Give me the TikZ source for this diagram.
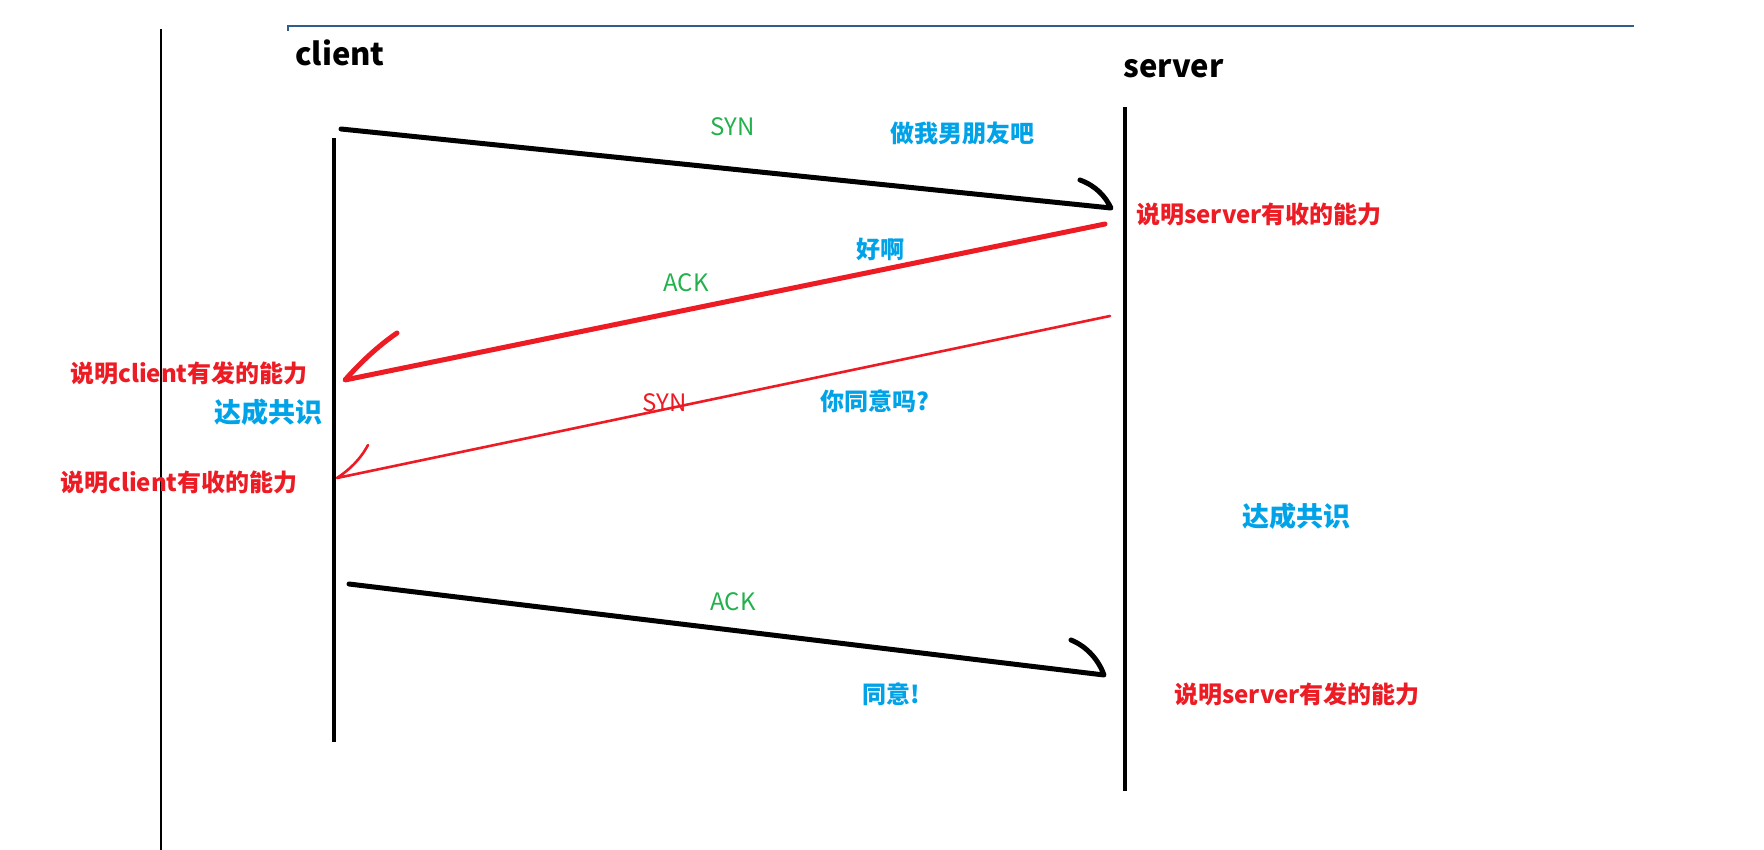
\documentclass[tikz,border=0pt]{standalone}
\usepackage{fontspec}
\setmainfont{Noto Sans CJK SC}
\usetikzlibrary{positioning}
\definecolor{paintred}{HTML}{ED1C24}
\definecolor{paintblue}{HTML}{00A2E8}
\definecolor{paintgreen}{HTML}{22B14C}
\definecolor{frameblue}{HTML}{2F5D8C}

\begin{document}
\begin{tikzpicture}[
  x=1pt, y=-1pt,
  inkline/.style={line width=5pt, line cap=round, line join=round},
  lifeline/.style={line width=4pt},
  note/.style={font=\fontsize{24}{28}\selectfont\bfseries, text=paintred, inner sep=0pt},
  say/.style={font=\fontsize{#1}{30}\selectfont\bfseries, text=paintblue, inner sep=0pt},
  say/.default=24,
  flag/.style={font=\fontsize{24}{28}\selectfont, text=#1, inner sep=0pt},
  who/.style={font=\fontsize{31}{36}\selectfont\bfseries, inner sep=0pt}
]
\useasboundingbox (0,0) rectangle (1764,850);
\fill[white] (0,0) rectangle (1764,850);

% window edges
\draw[line width=1.5pt] (161,29) -- (161,850);
\draw[frameblue, line width=1.5pt] (288,31) -- (288,26) -- (1634,26);

% ends
\node[who, anchor=base west] (client) at (295,66) {client};
\node[who, anchor=base west] (server) at (1123,78) {server};

\coordinate (ctop) at (334,138);
\coordinate (cbot) at (334,742);
\coordinate (stop) at (1125,107);
\coordinate (sbot) at (1125,791);
\draw[lifeline] (ctop) -- (cbot);
\draw[lifeline] (stop) -- (sbot);

% first handshake
\coordinate (syn1a) at (341,129);
\coordinate (syn1b) at (1111,208);
\draw[inkline] (syn1a) -- (syn1b) .. controls (1105,196) and (1096,186) .. (1080,180);

\coordinate (ack1a) at (1105,224);
\coordinate (ack1b) at (345,380);
\draw[inkline, paintred] (ack1a) -- (ack1b) .. controls (360,363) and (378,346) .. (397,333);

\coordinate (syn2a) at (1110,316);
\coordinate (syn2b) at (337,478);
\draw[inkline, paintred, line width=2.6pt] (syn2a) -- (syn2b) .. controls (349,470) and (360,460) .. (368,445);

\coordinate (ack2a) at (349,584);
\coordinate (ack2b) at (1104,675);
\draw[inkline] (ack2a) -- (ack2b) .. controls (1099,661) and (1088,647) .. (1071,640);

% labels
\node[flag=paintgreen] (synlbl) at (733,127) {SYN};
\node[say] (ask) at (962,133) {做我男朋友吧};
\node[note, anchor=west] (srecv) at (1136,214) {说明server有收的能力};
\node[say] (okay) at (880,249) {好啊};
\node[flag=paintgreen] (acklbl) at (686,283) {ACK};
\node[note, anchor=west] (csend) at (70,373) {说明client有发的能力};
\node[say=27] (cagree) at (268,412) {达成共识};
\node[note, anchor=west] (crecv) at (60,482) {说明client有收的能力};
\node[flag=paintred] (syn2lbl) at (665,403) {SYN};
\node[say] (agree) at (875,401) {你同意吗?};
\node[say=27] (sagree) at (1296,516) {达成共识};
\node[flag=paintgreen] (ack2lbl) at (733,602) {ACK};
\node[say] (yes) at (891,694) {同意!};
\node[note, anchor=west] (ssend) at (1174,694) {说明server有发的能力};

\end{tikzpicture}
\end{document}
